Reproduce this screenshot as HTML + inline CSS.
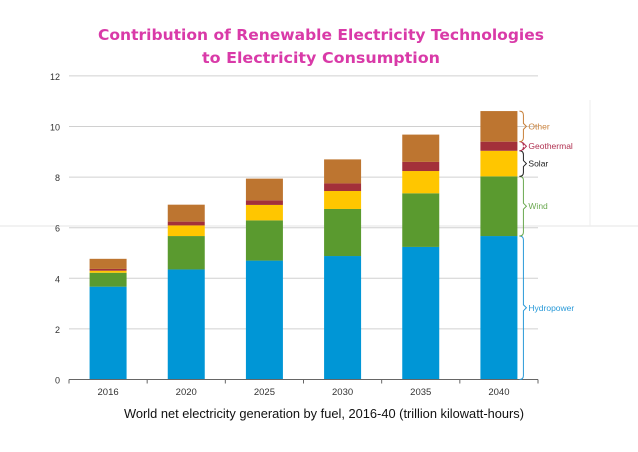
<!DOCTYPE html>
<html><head><meta charset="utf-8"><style>
body{margin:0;background:#fff;width:638px;height:452px;overflow:hidden}
svg{display:block;font-family:"Liberation Sans",sans-serif}
</style></head><body>
<svg id="chart" width="638" height="452" viewBox="0 0 638 452">
<text x="321" y="40" text-anchor="middle" font-family="DejaVu Sans" font-weight="bold" font-size="15" fill="#d93aa8" textLength="446" lengthAdjust="spacingAndGlyphs">Contribution of Renewable Electricity Technologies</text>
<text x="321" y="63" text-anchor="middle" font-family="DejaVu Sans" font-weight="bold" font-size="15" fill="#d93aa8" textLength="238" lengthAdjust="spacingAndGlyphs">to Electricity  Consumption</text>
<line x1="0" y1="226" x2="638" y2="226" stroke="#e4e4e4"/>
<line x1="590" y1="100" x2="590" y2="226" stroke="#eee"/>
<g id="grid"></g><g id="bars"></g><g id="axis"></g><g id="legend"></g>
<text x="324" y="418" text-anchor="middle" font-size="12.5" fill="#111" textLength="400" lengthAdjust="spacingAndGlyphs">World net electricity generation by fuel, 2016-40 (trillion kilowatt-hours)</text>
</svg>
<script>
const categories=["2016","2020","2025","2030","2035","2040"];
const hydro=[3.67,4.35,4.70,4.88,5.24,5.67];
const wind=[0.55,1.32,1.59,1.86,2.12,2.36];
const solar=[0.08,0.42,0.61,0.71,0.88,1.01];
const geothermal=[0.07,0.15,0.18,0.30,0.36,0.36];
const other=[0.40,0.67,0.86,0.95,1.08,1.21];
const yTicks=[0,2,4,6,8,10,12];
const seriesNames=["Hydropower","Wind","Solar","Geothermal","Other"];
const colors=["#0096d6","#5a9a2f","#ffc600","#a3303a","#bd7530"];
const NS="http://www.w3.org/2000/svg";
const y0=379.5,pxu=25.3,x0=69,x1=538;
const y=v=>y0-v*pxu;
const step=(x1-x0)/categories.length;
const xc=i=>x0+step*(i+0.5);
const bw=37;
function mk(t,a,p){const e=document.createElementNS(NS,t);for(const k in a)e.setAttribute(k,a[k]);p.appendChild(e);return e;}
const grid=document.getElementById('grid'),bars=document.getElementById('bars'),axis=document.getElementById('axis'),leg=document.getElementById('legend');
yTicks.forEach(t=>{
 if(t>0){const l=mk('line',{x1:x0,x2:x1,y1:y(t),y2:y(t),stroke:'#d0d0d0'},grid);
 
 }
 const tx=mk('text',{x:60,y:y(t)+4,'text-anchor':'end','font-size':9,fill:'#333'},axis);tx.textContent=t;
 
 
});
const series=[hydro,wind,solar,geothermal,other];
categories.forEach((c,i)=>{
 let acc=0;
 series.forEach((s,j)=>{
  const r=mk('rect',{x:xc(i)-bw/2,y:y(acc+s[i]),width:bw,height:s[i]*pxu,fill:colors[j]},bars);
  
  
  acc+=s[i];
 });
 const tx=mk('text',{x:xc(i),y:395,'text-anchor':'middle','font-size':9.5,fill:'#333'},axis);tx.textContent=c;
 
 
});
const ax=mk('line',{x1:x0,x2:x1,y1:y0,y2:y0,stroke:'#666'},axis);


for(let i=0;i<=categories.length;i++){const tk=mk('line',{x1:x0+step*i,x2:x0+step*i,y1:y0,y2:y0+4,stroke:'#666'},axis);
 
 }
// legend braces for last bar
const last=categories.length-1;let acc=0;
const labColors=["#2a9ad8","#6aa84f","#222","#b03050","#c8803a"];
series.forEach((s,j)=>{
 const a=y(acc),b=y(acc+s[last]);acc+=s[last];
 const bx=xc(last)+bw/2+2,m=(a+b)/2;
 const p=mk('path',{d:`M${bx},${a} q4,0 4,-4 L${bx+4},${m+3} l3,-3 l-3,-3 L${bx+4},${b+4} q0,-4 -4,-4`,fill:'none',stroke:labColors[j],'stroke-width':1},leg);
 
 
 const t=mk('text',{x:bx+9,y:m+3,'font-size':8.5,fill:labColors[j]},leg);t.textContent=seriesNames[j];
 
 
});
</script>
</body></html>
